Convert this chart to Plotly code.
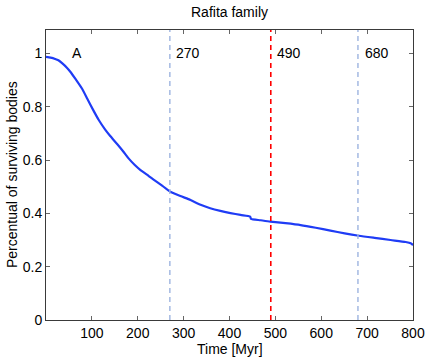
import plotly.graph_objects as go

time_myr = [0, 10, 20, 27, 35, 45, 53, 65, 78, 90, 103, 115, 129, 140, 155, 168, 180, 193, 206, 220, 231, 250, 271, 293, 315, 337, 358, 380, 402, 424, 445, 447, 468, 489, 522, 555, 588, 620, 651, 682, 716, 751, 784, 795, 800]
surviving = [0.987, 0.984, 0.979, 0.974, 0.963, 0.947, 0.931, 0.902, 0.869, 0.830, 0.787, 0.750, 0.714, 0.690, 0.660, 0.633, 0.606, 0.582, 0.562, 0.545, 0.531, 0.508, 0.481, 0.465, 0.450, 0.432, 0.419, 0.409, 0.401, 0.394, 0.388, 0.379, 0.374, 0.369, 0.363, 0.356, 0.346, 0.335, 0.325, 0.316, 0.308, 0.300, 0.2925, 0.288, 0.281]

marker_times = [270, 490, 680]
marker_labels = ["270", "490", "680"]
marker_colors = ["#9db4e0", "#ff0000", "#9db4e0"]

fig = go.Figure()
fig.add_trace(go.Scatter(x=time_myr, y=surviving, mode="lines",
                         line=dict(color="#1f3cf5", width=2.2, shape="spline", smoothing=0.6),
                         showlegend=False))

for t, lab, c in zip(marker_times, marker_labels, marker_colors):
    fig.add_shape(type="line", x0=t, x1=t, y0=0, y1=1, yref="paper", xref="x",
                  line=dict(color=c, width=1.6 if c == "#ff0000" else 1.4, dash="5px,4px"))
    fig.add_annotation(x=t + 10, y=1.0, text=lab, showarrow=False, xanchor="left",
                       yanchor="middle", font=dict(size=14, color="black"))

fig.add_annotation(x=52, y=1.0, text="A", showarrow=False, xanchor="left",
                   yanchor="middle", font=dict(size=14, color="black"))

fig.add_annotation(x=0.5, y=0, xref="paper", yref="paper", yshift=-19, text="Time [Myr]",
                   showarrow=False, font=dict(size=14, color="black"), yanchor="top")
fig.add_annotation(x=0, y=0.5, xref="paper", yref="paper", xshift=-34,
                   text="Percentual of surviving bodies",
                   showarrow=False, textangle=-90, font=dict(size=14, color="black"),
                   xanchor="center", yanchor="middle")

axis_common = dict(showgrid=False, zeroline=False, showline=True, linecolor="#3a3a3a",
                   linewidth=1, mirror="allticks", ticks="inside", ticklen=4,
                   tickcolor="#666666", tickfont=dict(size=14, color="black"),
                   automargin=False)

fig.update_layout(
    width=429, height=357,
    margin=dict(l=46, r=16, t=30, b=37),
    paper_bgcolor="white", plot_bgcolor="white",
    font=dict(family="Liberation Sans, Arial, sans-serif", color="black"),
    title=dict(text="Rafita family", x=0.535, xanchor="center", y=0.965, yanchor="middle",
               font=dict(size=14)),
    xaxis=dict(range=[0, 800], tickvals=[100, 200, 300, 400, 500, 600, 700, 800], **axis_common),
    yaxis=dict(range=[0, 1.0875], tickvals=[0, 0.2, 0.4, 0.6, 0.8, 1],
               ticktext=["0", "0.2", "0.4", "0.6", "0.8", "1"], **axis_common),
)

fig.write_html("out.html", config={"displayModeBar": False},
               post_script="document.body.style.margin='0';")
